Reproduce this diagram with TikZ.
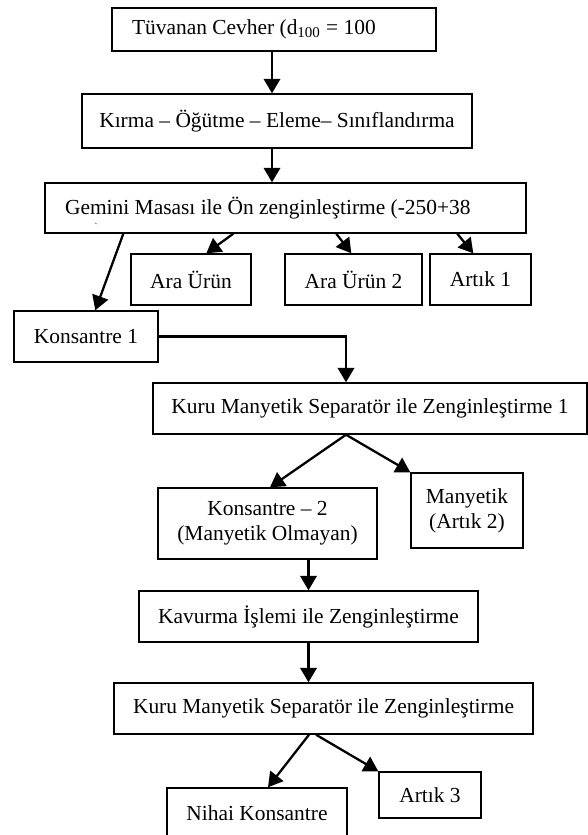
\documentclass[tikz,border=0pt]{standalone}
\usepackage{fontspec}
\setmainfont{Liberation Serif}
\usetikzlibrary{arrows.meta,positioning,calc}

\begin{document}
\begin{tikzpicture}[
    x=0.02cm, y=-0.02cm,
    box/.style={draw, line width=0.8pt, inner sep=0pt, align=center,
        font=\fontsize{12.2}{14.4}\selectfont},
    lbox/.style={box, inner xsep=0.4cm, minimum width=#1},
    arrow/.style={-{Triangle[length=2.9mm, width=3.3mm]}, line width=1.3pt}
]
\useasboundingbox (0,0) rectangle (588,835);

% main line
\node[lbox=6.48cm, minimum height=0.86cm] (cevher) at (274,29.5)
    {\makebox[5.68cm][l]{Tüvanan Cevher (d\textsubscript{100} = 100}};
\node[box, minimum width=7.8cm, minimum height=1.08cm] (kirma) at (277,121) {Kırma – Öğütme – Eleme– Sınıflandırma};
\node[lbox=9.62cm, minimum height=1cm] (gemini) at (285.5,208)
    {\makebox[8.82cm][l]{Gemini Masası ile Ön zenginleştirme (-250+38}};
\node[font=\fontsize{5}{5}\selectfont, inner sep=0pt] (tick) at (96,226) {\textasciigrave};

% gemini products
\node[box, minimum width=2.4cm, minimum height=1.02cm]  (ara1)   at (191,279.5) {Ara Ürün};
\node[box, minimum width=2.74cm, minimum height=1.02cm] (ara2)   at (353.5,279.5) {Ara Ürün 2};
\node[box, minimum width=2.02cm, minimum height=1.02cm] (artik1) at (480.5,279.5) {Artık 1};
\node[box, minimum width=2.88cm, minimum height=1.02cm] (kons1)  at (86,336.5) {Konsantre 1};

% magnetic stage
\node[box, minimum width=8.68cm, minimum height=1.02cm] (kuru1)    at (370,408.5) {Kuru Manyetik Separatör ile Zenginleştirme 1};
\node[box, minimum width=4.38cm, minimum height=1.42cm] (kons2)    at (267.5,523.5) {Konsantre – 2\\(Manyetik Olmayan)};
\node[box, minimum width=2.24cm, minimum height=1.5cm]  (manyetik) at (467,510.5) {Manyetik\\(Artık 2)};
\node[box, minimum width=6.78cm, minimum height=1.02cm] (kavurma)  at (308.5,616.5) {Kavurma İşlemi ile Zenginleştirme};
\node[box, minimum width=8.38cm, minimum height=1.02cm] (kuru2)    at (323.5,708.5) {Kuru Manyetik Separatör ile Zenginleştirme};
\node[box, minimum width=3.6cm, minimum height=1.02cm]  (nihai)    at (257,813.5) {Nihai Konsantre};
\node[box, minimum width=2.04cm, minimum height=0.92cm] (artik3)   at (430,795) {Artık 3};

\draw[arrow] ([xshift=-0.04cm]cevher.south) -- ([xshift=-0.04cm]cevher.south |- kirma.north);
\draw[arrow] ([xshift=-0.1cm]kirma.south) -- ([xshift=-0.1cm]kirma.south |- gemini.north);

\draw[arrow] ([xshift=1.58cm]gemini.south west) -- ([xshift=1.64cm]kons1.north west);
\foreach \a/\n/\b in {3.78cm/ara1/1.52cm, 5.84cm/ara2/1.34cm, 8.26cm/artik1/0.88cm}
    \draw[arrow] ([xshift=\a]gemini.south west) -- ([xshift=\b]\n.north west);

\draw[arrow] (kons1.east) -| ([xshift=-0.48cm]kuru1.north);
\draw[arrow] ([xshift=-0.48cm]kuru1.south) -- ([xshift=0.05cm]kons2.north);
\draw[arrow] ([xshift=-0.48cm]kuru1.south) -- (manyetik.north west);

\draw[arrow] (kons2.south -| kavurma.north) -- (kavurma.north);
\draw[arrow] (kavurma.south) -- (kavurma.south |- kuru2.north);
\draw[arrow] ([xshift=-0.29cm]kuru2.south) -- ([xshift=0.22cm]nihai.north);
\draw[arrow] ([xshift=-0.15cm]kuru2.south) -- (artik3.north west);
\end{tikzpicture}
\end{document}
